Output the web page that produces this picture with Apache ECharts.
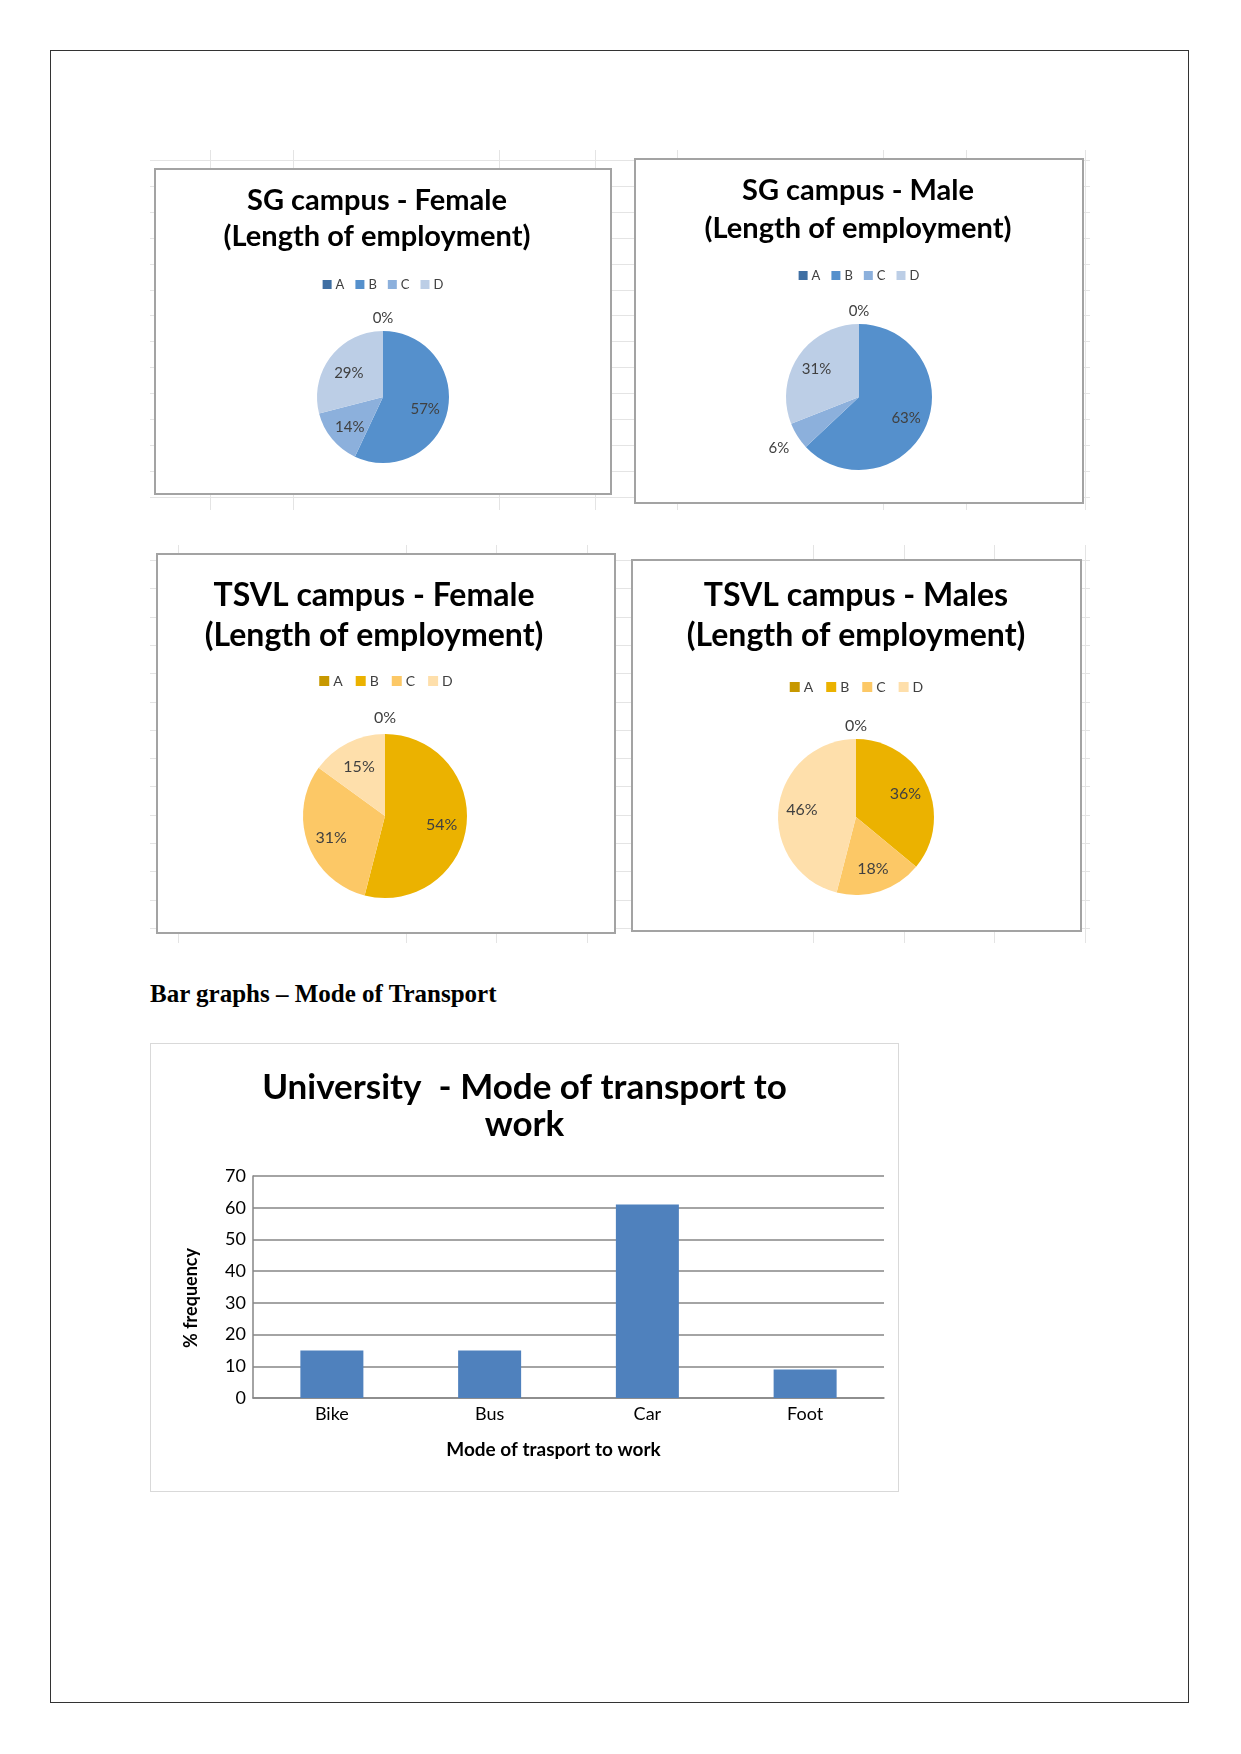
<!DOCTYPE html>
<html><head><meta charset="utf-8">
<script src="https://cdn.jsdelivr.net/npm/echarts@6/dist/echarts.min.js"></script>
<style>
html,body{margin:0;padding:0;background:#fff}
body{width:1241px;height:1754px;position:relative;overflow:hidden;font-family:Lato,sans-serif}
.abs{position:absolute}
.box{position:absolute;background:#fff;border:2px solid #a3a3a3;box-sizing:border-box}
.gl{position:absolute;background:#e4e4e4}
</style></head><body>
<div class="abs" style="left:50px;top:50px;width:1139px;height:1653px;border:1px solid #333;box-sizing:border-box"></div>
<div id="bg1"></div>
<div id="bg2"></div>

<div class="box" style="left:154px;top:168px;width:458px;height:327px"></div>
<div class="box" style="left:634px;top:158px;width:450px;height:346px"></div>
<div class="box" style="left:156px;top:553px;width:460px;height:381px"></div>
<div class="box" style="left:631px;top:559px;width:451px;height:373px"></div>

<div id="p1" class="abs" style="left:154px;top:168px;width:458px;height:327px"></div>
<div id="p2" class="abs" style="left:634px;top:158px;width:450px;height:346px"></div>
<div id="p3" class="abs" style="left:156px;top:553px;width:460px;height:381px"></div>
<div id="p4" class="abs" style="left:631px;top:559px;width:451px;height:373px"></div>

<div class="abs" style="left:150px;top:978px;font-family:'Liberation Serif','Times New Roman',serif;font-weight:bold;font-size:25px;line-height:32px;color:#000;white-space:nowrap">Bar graphs – Mode of Transport</div>

<div class="abs" style="left:150px;top:1043px;width:749px;height:449px;border:1px solid #d9d9d9;box-sizing:border-box"></div>
<div id="bar" class="abs" style="left:150px;top:1043px;width:749px;height:449px"></div>

<script>
// ---------------- data ----------------
const sliceNames = ['A', 'B', 'C', 'D'];
const sgFemale   = [0, 57, 14, 29];
const sgMale     = [0, 63, 6, 31];
const tsvlFemale = [0, 54, 31, 15];
const tsvlMale   = [0, 36, 18, 46];

const transportModes = ['Bike', 'Bus', 'Car', 'Foot'];
const transportFreq  = [15, 15, 61, 9];
const yAxisMin = 0, yAxisMax = 70, yAxisStep = 10;

// ---------------- background spreadsheet gridlines (decoration) ----------------
function gridBg(id, x0, x1, y0, y1, rowStart, rowStep, rowCount, cols) {
  const host = document.getElementById(id);
  for (let i = 0; i <= rowCount; i++) {
    const d = document.createElement('div'); d.className = 'gl';
    d.style.cssText = `left:${x0}px;top:${Math.round(rowStart + i*rowStep)}px;width:${x1-x0}px;height:1px`;
    host.appendChild(d);
  }
  cols.forEach(c => {
    const d = document.createElement('div'); d.className = 'gl';
    d.style.cssText = `left:${c}px;top:${y0}px;width:1px;height:${y1-y0}px`;
    host.appendChild(d);
  });
}
gridBg('bg1', 150, 1090, 150, 510, 160, 25.9, 13, [210, 293, 499, 595, 677, 883, 966, 1085]);
gridBg('bg2', 150, 1090, 545, 943, 560, 28.3, 13, [178, 406, 496, 587, 813, 904, 994, 1085]);

// ---------------- pies ----------------
const blues = ['#3f6fa3', '#5590cc', '#8cb0dc', '#bccee6'];
const golds = ['#c79800', '#ebb200', '#fcc866', '#fedfab'];

function makePie(id, title, values, colors, c) {
  const chart = echarts.init(document.getElementById(id), null, {renderer: 'canvas'});
  const data = values.map((v, i) => {
    const item = {name: sliceNames[i], value: v};
    if (v < 8) {
      item.label = {position: 'outside', distanceToLabelLine: 0};
      item.labelLine = {show: false, length: v === 0 ? c.zeroLen : c.smallLen, length2: 0};
    }
    return item;
  });
  chart.setOption({
    animation: false,
    title: {
      text: title, left: c.titleX, top: c.titleTop, textAlign: 'center',
      textStyle: {fontFamily: 'Lato', fontWeight: 'bold', fontSize: c.titleSize, lineHeight: c.lineHeight, color: '#000'}
    },
    legend: {
      data: sliceNames, top: c.legendTop, left: 'center', icon: 'rect',
      itemWidth: c.icon, itemHeight: c.icon, itemGap: c.itemGap,
      textStyle: {fontFamily: 'Lato', fontSize: c.legendSize, color: '#404040', padding: [0, 0, 0, -1]}
    },
    color: colors,
    series: [{
      type: 'pie', center: c.center, radius: c.radius, startAngle: 90, clockwise: true,
      avoidLabelOverlap: false, data: data,
      label: {show: true, position: 'inside', formatter: '{c}%', fontFamily: 'Lato', fontSize: c.labelSize, color: '#404040'},
      labelLine: {show: false},
      labelLayout: function (p) {
        if (values[p.dataIndex] < 8) return {align: 'center'};
        const r = p.labelRect;
        const lx = r.x + r.width / 2, ly = r.y + r.height / 2;
        return {dx: (lx - c.center[0]) * c.push, dy: (ly - c.center[1]) * c.push + c.drop};
      },
      emphasis: {disabled: true}
    }]
  });
}

makePie('p1', 'SG campus - Female\n(Length of employment)', sgFemale, blues,
  {titleX: 218, titleTop: 10, titleSize: 29, lineHeight: 36, legendTop: 105, legendSize: 13, icon: 9, itemGap: 11,
   center: [229, 229], radius: 66, labelSize: 15, zeroLen: 13, smallLen: 20, push: 0.2, drop: 3});
makePie('p2', 'SG campus - Male\n(Length of employment)', sgMale, blues,
  {titleX: 219, titleTop: 9, titleSize: 29, lineHeight: 38, legendTop: 106, legendSize: 13, icon: 9, itemGap: 11,
   center: [225, 239], radius: 73, labelSize: 15, zeroLen: 13, smallLen: 22, push: 0.3, drop: 1});
makePie('p3', 'TSVL campus - Female\n(Length of employment)', tsvlFemale, golds,
  {titleX: 213, titleTop: 18, titleSize: 32, lineHeight: 40, legendTop: 116, legendSize: 14, icon: 10, itemGap: 13,
   center: [229, 263], radius: 82, labelSize: 16, zeroLen: 16, smallLen: 20, push: 0.3, drop: 2});
makePie('p4', 'TSVL campus - Males\n(Length of employment)', tsvlMale, golds,
  {titleX: 220, titleTop: 12, titleSize: 32, lineHeight: 40, legendTop: 116, legendSize: 14, icon: 10, itemGap: 13,
   center: [225, 258], radius: 78, labelSize: 16, zeroLen: 13, smallLen: 20, push: 0.3, drop: 0});

// ---------------- bar chart ----------------
const bar = echarts.init(document.getElementById('bar'), null, {renderer: 'canvas'});
bar.setOption({
  animation: false,
  title: {
    text: 'University  - Mode of transport to\nwork', left: 'center', top: 21,
    textStyle: {fontFamily: 'Lato', fontWeight: 'bold', fontSize: 35, lineHeight: 37, color: '#000'}
  },
  grid: {left: 103, right: 15, top: 133, bottom: 94},
  xAxis: {
    type: 'category', data: transportModes,
    axisLine: {lineStyle: {color: '#868686', width: 1.5}},
    axisTick: {show: false},
    axisLabel: {fontFamily: 'Lato', fontSize: 18, color: '#000', margin: 7},
    name: 'Mode of trasport to work', nameLocation: 'middle', nameGap: 42,
    nameTextStyle: {fontFamily: 'Lato', fontWeight: 'bold', fontSize: 19, color: '#000', padding: [0, 30, 0, 0]}
  },
  yAxis: {
    type: 'value', min: yAxisMin, max: yAxisMax, interval: yAxisStep,
    axisLine: {show: true, lineStyle: {color: '#868686', width: 1.5}},
    axisTick: {show: false},
    splitLine: {lineStyle: {color: '#868686', width: 1.5}},
    axisLabel: {fontFamily: 'Lato', fontSize: 18, color: '#000', margin: 7},
    name: '% frequency', nameLocation: 'middle', nameGap: 53, nameRotate: 90,
    nameTextStyle: {fontFamily: 'Lato', fontWeight: 'bold', fontSize: 18, color: '#000', padding: [0, 22, 0, 0]}
  },
  series: [{type: 'bar', data: transportFreq, barWidth: 63, itemStyle: {color: '#4f81bd'}, emphasis: {disabled: true}}]
});
</script>
</body></html>
